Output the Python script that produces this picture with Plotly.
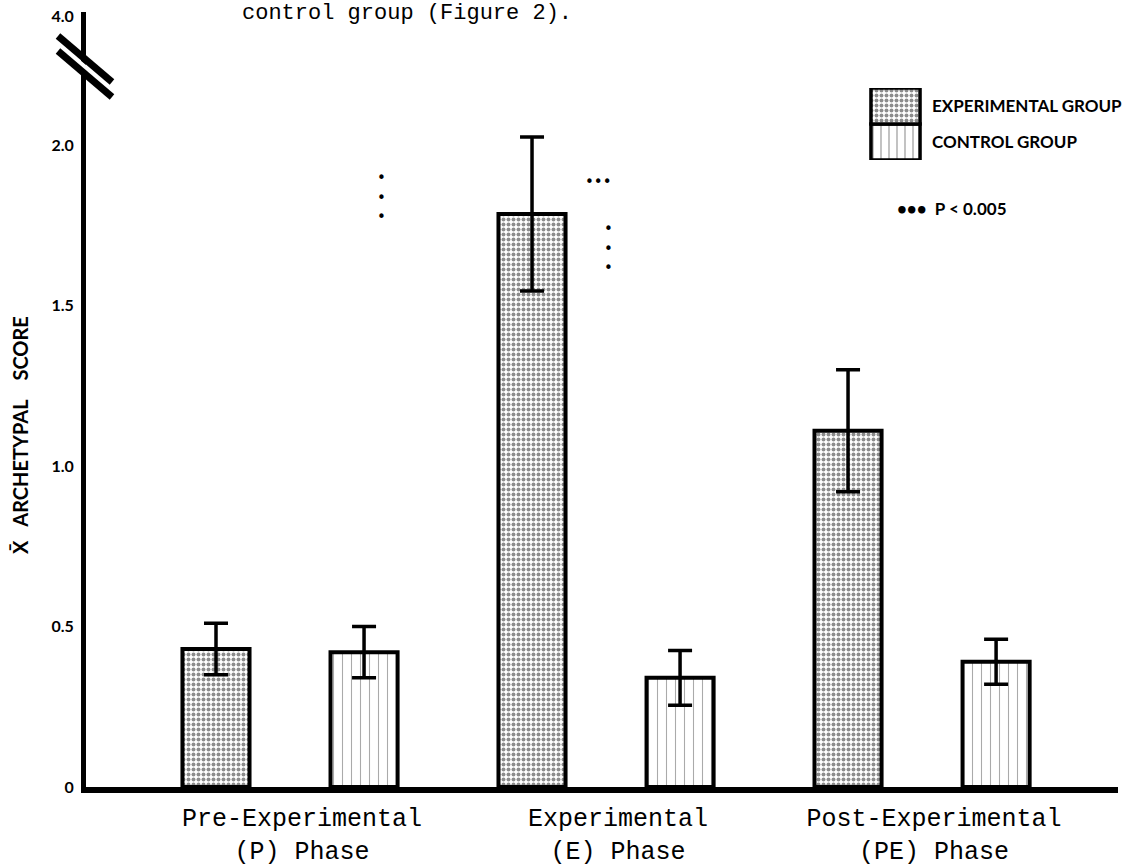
import plotly.graph_objects as go

# ---- data ----
phases = ["Pre-Experimental<br>(P) Phase", "Experimental<br>(E) Phase", "Post-Experimental<br>(PE) Phase"]
exp_means = [0.43, 1.785, 1.11]
exp_err = [0.08, 0.24, 0.19]
ctrl_means = [0.42, 0.34, 0.39]
ctrl_err = [0.08, 0.085, 0.07]
y_tickvals = [0, 0.5, 1.0, 1.5, 2.0, 2.40]
y_ticktext = ["0", "0.5", "1.0", "1.5", "2.0", "4.0"]
legend_labels = ["CONTROL GROUP", "EXPERIMENTAL GROUP"]
legend_key = [1, 1]

W, H = 1142, 865
L, R, T, B = 86, 24, 12, 78
X0, X1, Y0, Y1 = L, W - R, T, H - B


def px(x):
    return (x - X0) / (X1 - X0)


def py(y):
    return (Y1 - y) / (Y1 - Y0)


MONO = "Liberation Mono, Courier New, monospace"
SANS = "Lato, DejaVu Sans, sans-serif"

fig = go.Figure()

fig.add_trace(go.Bar(
    x=phases, y=exp_means, name="EXPERIMENTAL GROUP",
    marker=dict(color="white", line=dict(color="black", width=4),
                pattern=dict(shape=".", size=5, solidity=0.5, fgcolor="#1a1a1a", bgcolor="white")),
    error_y=dict(type="data", array=exp_err, visible=True, color="black", thickness=3.5, width=12),
    showlegend=False,
))
fig.add_trace(go.Bar(
    x=phases, y=ctrl_means, name="CONTROL GROUP",
    marker=dict(color="white", line=dict(color="black", width=4),
                pattern=dict(shape="|", size=9, solidity=0.12, fgcolor="#555555", bgcolor="white")),
    error_y=dict(type="data", array=ctrl_err, visible=True, color="black", thickness=3.5, width=12),
    showlegend=False,
))

# legend key drawn as a small inset bar chart
fig.add_trace(go.Bar(
    x=legend_key, y=legend_labels, orientation="h", xaxis="x2", yaxis="y2",
    width=[1.0, 1.0], offset=[-0.5, -0.5],
    marker=dict(color="white", line=dict(color="black", width=3.5),
                pattern=dict(shape=["|", "."], size=[8, 5], solidity=[0.15, 0.5],
                             fgcolor=["#333333", "#1a1a1a"], bgcolor="white")),
    showlegend=False, hoverinfo="skip",
))

fig.update_layout(
    width=W, height=H,
    margin=dict(l=L, r=R, t=T, b=B, autoexpand=False),
    paper_bgcolor="white", plot_bgcolor="white",
    barmode="group", bargap=0.063, bargroupgap=0.547,
    showlegend=False,
    xaxis=dict(
        range=[-0.6456, 2.62], showgrid=False, zeroline=False,
        showline=True, linecolor="black", linewidth=6, ticks="",
        tickfont=dict(family=MONO, size=25, color="black"),
        ticklabelshift=12, ticklabelstandoff=3, automargin=False,
    ),
    yaxis=dict(
        range=[0, (Y1 - Y0) / 321.0], showgrid=False, zeroline=False,
        showline=True, linecolor="black", linewidth=5, ticks="",
        tickvals=y_tickvals, ticktext=y_ticktext,
        tickfont=dict(family=SANS, size=16, color="black", weight="bold"),
        ticklabelstandoff=4, automargin=False,
    ),
    xaxis2=dict(domain=[px(869), px(922)], anchor="y2", range=[-0.04, 1.04],
                visible=False, fixedrange=True),
    yaxis2=dict(domain=[py(160), py(88)], anchor="x2", side="right",
                range=[-0.5, 1.5], showgrid=False, zeroline=False, showline=False, ticks="",
                tickfont=dict(family=SANS, size=17, color="black", weight="bold"),
                ticklabelstandoff=9, automargin=False),
)

# axis break marks
shapes = []
shapes.append(dict(type="line", xref="paper", yref="paper",
                   x0=px(56), y0=py(43.5), x1=px(113), y1=py(90.5),
                   line=dict(color="white", width=5)))
for dy in (0, 15):
    shapes.append(dict(type="line", xref="paper", yref="paper",
                       x0=px(58), y0=py(36 + dy), x1=px(112), y1=py(82 + dy),
                       line=dict(color="black", width=7)))
fig.update_layout(shapes=shapes)

ann = []
ann.append(dict(text="control group (Figure 2).", xref="paper", yref="paper",
                x=px(240), y=py(14), xanchor="left", yanchor="middle", showarrow=False,
                font=dict(family=MONO, size=22, color="black")))
ann.append(dict(text="X\u0304   ARCHETYPAL    SCORE", xref="paper", yref="paper",
                x=px(6), y=py(435), textangle=-90, showarrow=False,
                font=dict(family=SANS, size=20, color="black", weight="bold")))
ann.append(dict(text="•<br>•<br>•", xref="paper", yref="paper",
                x=px(375), y=py(167), showarrow=False,
                font=dict(family="DejaVu Sans", size=15, color="black")))
ann.append(dict(text="•••", xref="paper", yref="paper",
                x=px(598), y=py(171), showarrow=False,
                font=dict(family="DejaVu Sans", size=15, color="black")))
ann.append(dict(text="•<br>•<br>•", xref="paper", yref="paper",
                x=px(608), y=py(218), showarrow=False,
                font=dict(family="DejaVu Sans", size=15, color="black")))
ann.append(dict(text="•••  P < 0.005", xref="paper", yref="paper",
                x=px(895), y=py(196), xanchor="left", showarrow=False,
                font=dict(family=SANS, size=17, color="black", weight="bold")))
fig.update_layout(annotations=ann)

fig.write_html("out.html", config={"displayModeBar": False},
               post_script="document.body.style.margin='0';")
